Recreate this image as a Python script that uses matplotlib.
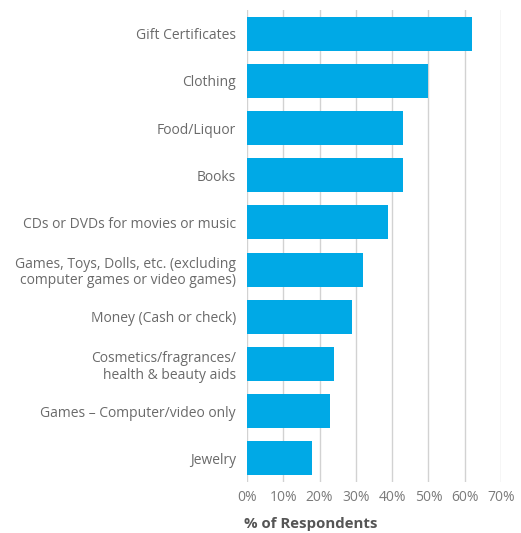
import matplotlib.pyplot as plt

# categories, top to bottom
categories = [
    "Gift Certificates",
    "Clothing",
    "Food/Liquor",
    "Books",
    "CDs or DVDs for movies or music",
    "Games, Toys, Dolls, etc. (excluding\ncomputer games or video games)",
    "Money (Cash or check)",
    "Cosmetics/fragrances/\nhealth & beauty aids",
    "Games \u2013 Computer/video only",
    "Jewelry",
]
# share of respondents, percent
values = [62, 50, 43, 43, 39, 32, 29, 24, 23, 18]
ticks = [0, 10, 20, 30, 40, 50, 60, 70]
tick_labels = [f"{t}%" for t in ticks]

plt.rcParams['font.family'] = ['Open Sans', 'DejaVu Sans']

fig = plt.figure(figsize=(5.21, 5.33), dpi=100)
ax = fig.add_axes([0.474, 0.0957, 0.4876, 0.8855])

pos = list(range(len(categories)))
ax.barh(pos, values, height=0.72, color='#00a9e6', zorder=2)

ax.set_xlim(0, 70)
ax.set_ylim(9.5, -0.5)
ax.set_xticks(ticks)
ax.set_xticklabels(tick_labels, fontsize=10, color='#7a7a7a')
ax.set_yticks(pos)
ax.set_yticklabels(categories, fontsize=10, color='#6a6a6a', linespacing=1.15)
ax.tick_params(axis='both', length=0)
ax.tick_params(axis='y', pad=8)
ax.tick_params(axis='x', pad=6)

for t in ticks:
    ax.axvline(t, color='#d2d2d2', lw=1.0, zorder=1)
for s in ax.spines.values():
    s.set_visible(False)

fig.text(244 / 521, 1 - 524 / 533, "% of Respondents", fontsize=10.8,
         fontweight='bold', color='#555555', ha='left', va='center')

fig.savefig("out.png", dpi=100)
